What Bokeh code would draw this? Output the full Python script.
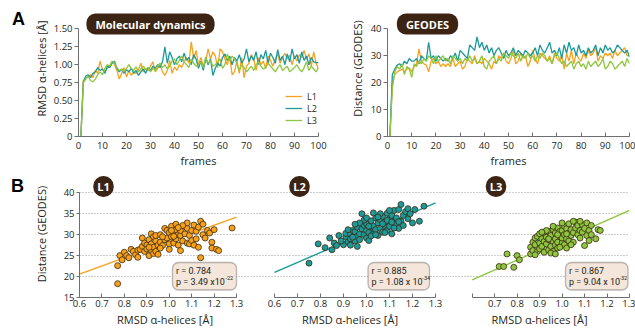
import numpy as np
from bokeh.plotting import figure
from bokeh.models import (Range1d, FixedTicker, Label, BoxAnnotation, Legend,
                          LegendItem, NumeralTickFormatter)
from bokeh.layouts import row, column
from bokeh.embed import file_html
from bokeh.resources import INLINE

# ---------------- data ----------------
frames = list(range(1, 101))
series_names = ["L1", "L2", "L3"]

rmsd_L1 = [
    0.00, 0.78, 0.80, 0.84, 0.86, 0.82, 0.92, 0.88, 1.05, 0.93,
    0.90, 0.95, 0.98, 1.04, 1.00, 0.92, 0.80, 0.88, 0.96, 0.83,
    0.92, 0.85, 0.90, 0.88, 0.93, 1.02, 0.90, 0.95, 0.92, 0.98,
    1.04, 0.90, 0.95, 1.00, 0.90, 0.85, 0.92, 1.06, 0.88, 0.97,
    0.92, 1.00, 0.96, 1.04, 1.10, 1.02, 1.32, 1.08, 1.20, 1.00,
    1.10, 0.98, 1.05, 1.22, 1.08, 1.18, 1.12, 0.96, 1.22, 1.18,
    1.08, 1.00, 1.12, 0.86, 0.90, 1.05, 0.88, 1.10, 0.82, 0.98,
    1.02, 1.14, 1.08, 0.92, 1.10, 1.00, 1.05, 0.95, 1.12, 1.06,
    0.98, 1.08, 1.15, 1.02, 1.10, 1.16, 1.08, 1.13, 1.00, 1.12,
    1.05, 1.14, 1.10, 1.20, 1.08, 1.15, 0.98, 1.18, 1.02, 0.94]
rmsd_L2 = [
    0.00, 0.76, 0.84, 0.86, 0.82, 0.88, 0.90, 0.96, 0.92, 0.94,
    0.88, 0.98, 0.96, 1.02, 1.05, 0.95, 0.90, 0.94, 0.88, 0.93,
    0.90, 0.95, 0.88, 0.92, 0.85, 0.90, 0.94, 0.88, 0.96, 0.92,
    0.98, 0.95, 1.00, 0.96, 1.04, 1.25, 1.02, 1.18, 1.10, 1.00,
    1.08, 1.12, 1.04, 1.16, 1.06, 1.10, 1.00, 1.14, 1.08, 0.95,
    1.05, 0.92, 1.10, 1.00, 1.08, 0.85, 0.95, 1.02, 0.98, 1.10,
    1.15, 1.06, 1.12, 1.00, 1.10, 1.05, 1.14, 1.02, 1.08, 1.22,
    1.04, 1.12, 1.06, 1.18, 1.00, 1.14, 1.08, 1.20, 1.02, 1.16,
    1.10, 1.02, 1.21, 1.06, 1.12, 1.00, 1.15, 1.04, 1.22, 1.08,
    1.14, 1.02, 1.18, 1.06, 1.12, 1.00, 1.10, 1.04, 1.03, 1.03]
rmsd_L3 = [
    0.00, 0.75, 0.80, 0.84, 0.78, 0.76, 0.80, 0.86, 0.90, 0.86,
    0.95, 1.00, 0.98, 1.05, 1.02, 0.96, 0.92, 0.94, 0.90, 0.95,
    1.00, 0.95, 0.92, 0.97, 0.90, 0.94, 0.98, 0.93, 0.96, 0.90,
    0.95, 0.92, 0.98, 1.02, 0.96, 1.00, 0.94, 0.98, 1.05, 1.08,
    1.00, 1.06, 1.12, 1.04, 1.00, 0.96, 1.08, 1.02, 0.98, 1.00,
    1.04, 0.96, 1.10, 1.02, 1.06, 0.98, 1.00, 1.04, 1.08, 0.95,
    1.00, 1.15, 1.05, 1.12, 1.08, 1.02, 0.92, 1.00, 0.96, 0.90,
    0.94, 0.98, 0.92, 1.00, 1.04, 0.98, 0.94, 0.96, 1.02, 0.98,
    0.94, 0.90, 0.96, 1.00, 0.92, 0.95, 0.98, 0.90, 0.93, 0.96,
    1.00, 0.94, 0.90, 0.96, 1.04, 0.92, 0.98, 0.94, 0.90, 0.96]

geo_L1 = [
    0, 20, 23, 24, 24.5, 25, 24, 25, 25.5, 24,
    26, 27, 32.5, 28, 27, 26.5, 24, 28, 29, 27,
    28, 26, 27, 26, 27, 26, 29, 26, 27, 28,
    25, 26, 29, 28, 27, 30, 27, 28, 27, 29,
    28, 27, 25, 28, 27, 30, 29, 31, 28, 27,
    29, 32, 27, 28, 31, 29, 30, 26, 28, 32,
    29, 27, 31, 30, 29, 28, 30, 27, 31, 29,
    28, 30, 25, 31, 28, 32, 27, 31, 29, 28,
    31, 29, 32, 30, 31, 33, 28, 30, 29, 31,
    30, 31, 29, 32, 30, 31, 32, 33, 30, 30]
geo_L2 = [
    0, 23, 25, 26.5, 27, 26, 28, 27, 29, 28,
    28, 29, 27, 30, 29, 28, 35, 29, 30, 28,
    30, 29, 28, 29, 28, 30, 29, 31, 28, 32,
    31, 30, 29, 34, 33, 32, 37, 33, 35, 32,
    34, 31, 33, 30, 32, 33, 31, 29, 32, 30,
    31, 33, 30, 32, 31, 30, 32, 31, 30, 31,
    33, 30, 34, 32, 31, 33, 35, 31, 32, 30,
    33, 29, 34, 31, 35, 32, 33, 30, 34, 31,
    32, 30, 33, 31, 32, 34, 30, 33, 31, 34,
    32, 33, 31, 32, 34, 33, 32, 31, 32, 29.5]
geo_L3 = [
    0, 18, 24, 26, 25, 27, 23, 26, 25, 22,
    27, 26, 28, 27, 29, 28, 30, 29, 27, 30,
    28, 29, 30, 28, 29, 27, 30, 29, 28, 29,
    27, 29, 28, 30, 28, 29, 27, 28, 30, 26,
    25, 28, 29, 30, 27, 29, 28, 31, 30, 29,
    31, 30, 29, 31, 28, 30, 29, 31, 29, 30,
    28, 30, 29, 31, 30, 28, 29, 27, 30, 31,
    29, 27, 28, 26, 27, 28, 25, 27, 28, 26,
    27, 25, 28, 26, 27, 28, 26, 27, 29, 25,
    26, 28, 27, 25, 26, 27, 28, 26, 29, 27]

# scatter: (RMSD, GEODES distance) pairs
scatter_L1 = [
    (0.77, 18.3), (0.77, 22.6), (0.78, 25.0), (0.79, 24.0), (0.80, 25.8), (0.81, 25.0),
    (0.82, 24.5), (0.83, 26.5), (0.84, 26.0), (0.85, 25.2), (0.86, 26.3), (0.86, 24.6),
    (0.87, 26.5), (0.88, 29.2), (0.88, 27.2), (0.89, 26.0), (0.89, 28.0), (0.90, 27.5),
    (0.90, 26.6), (0.91, 28.8), (0.91, 25.0), (0.92, 30.2), (0.92, 27.8), (0.92, 26.2),
    (0.93, 29.5), (0.93, 27.0), (0.93, 25.5), (0.94, 28.5), (0.94, 29.8), (0.94, 26.0),
    (0.95, 27.5), (0.95, 25.3), (0.96, 28.2), (0.96, 30.0), (0.97, 27.4), (0.98, 28.8),
    (0.98, 31.5), (0.99, 31.0), (0.99, 29.2), (1.00, 27.8), (1.00, 30.5), (1.00, 26.5),
    (1.01, 29.5), (1.01, 32.0), (1.02, 28.0), (1.02, 30.8), (1.03, 31.2), (1.03, 29.0),
    (1.03, 32.5), (1.04, 30.0), (1.04, 27.5), (1.05, 29.8), (1.05, 26.2), (1.05, 31.0),
    (1.06, 28.5), (1.07, 32.0), (1.07, 30.2), (1.08, 31.5), (1.08, 28.0), (1.08, 32.8),
    (1.09, 29.8), (1.09, 27.8), (1.10, 31.0), (1.10, 28.6), (1.11, 32.3), (1.11, 27.5),
    (1.12, 30.8), (1.12, 29.0), (1.13, 31.8), (1.13, 27.0), (1.14, 33.2), (1.14, 24.5),
    (1.15, 32.5), (1.15, 30.0), (1.16, 29.2), (1.17, 31.0), (1.18, 30.4), (1.19, 28.2),
    (1.19, 26.8), (1.20, 31.2), (1.21, 26.5), (1.22, 26.2), (1.28, 31.6), (0.97, 29.5),
    (1.06, 32.2), (1.01, 31.0), (0.96, 26.8), (0.91, 27.0), (1.02, 29.6), (1.04, 31.7)]
scatter_L2 = [
    (0.75, 23.2), (0.79, 27.8), (0.82, 26.9), (0.85, 26.4), (0.86, 28.0), (0.84, 29.2),
    (0.87, 27.4), (0.88, 29.8), (0.90, 27.6), (0.91, 29.5), (0.91, 30.3), (0.92, 28.3),
    (0.93, 30.1), (0.93, 29.0), (0.94, 31.0), (0.95, 28.5), (0.95, 30.7), (0.96, 29.6),
    (0.96, 31.8), (0.97, 30.2), (0.98, 35.0), (0.97, 28.8), (0.98, 31.4), (0.99, 30.0),
    (0.99, 32.2), (1.00, 29.2), (1.00, 31.0), (1.00, 32.6), (1.01, 30.5), (1.01, 28.6),
    (1.02, 31.8), (1.02, 33.3), (1.03, 30.2), (1.03, 32.0), (1.04, 34.0), (1.04, 31.2),
    (1.05, 29.8), (1.05, 32.8), (1.06, 33.6), (1.06, 31.5), (1.07, 30.6), (1.07, 34.4),
    (1.08, 32.2), (1.08, 33.0), (1.09, 31.0), (1.09, 35.1), (1.10, 33.8), (1.10, 32.0),
    (1.11, 34.6), (1.11, 30.2), (1.12, 33.3), (1.12, 35.8), (1.13, 32.5), (1.13, 34.0),
    (1.14, 31.5), (1.14, 36.0), (1.15, 33.2), (1.15, 37.2), (1.16, 34.6), (1.16, 32.2),
    (1.17, 35.5), (1.18, 33.8), (1.18, 36.2), (1.19, 35.0), (1.20, 32.8), (1.21, 36.0),
    (1.23, 33.2), (1.25, 36.8), (0.89, 28.5), (0.92, 31.2), (0.94, 29.4), (0.96, 27.2),
    (0.99, 33.5), (1.02, 29.7), (1.04, 30.0), (1.06, 35.0), (1.08, 30.5), (1.10, 35.8),
    (1.12, 31.6), (1.14, 33.1), (1.01, 32.0), (0.97, 32.8), (0.93, 27.5), (1.05, 34.2),
    (1.09, 33.4), (1.03, 35.2), (1.00, 34.0), (1.07, 32.6), (1.11, 33.0), (0.95, 32.5)]
scatter_L3 = [
    (0.72, 22.4), (0.74, 22.4), (0.755, 25.4), (0.785, 22.2), (0.80, 25.0), (0.81, 24.0),
    (0.86, 25.4), (0.86, 27.0), (0.87, 26.2), (0.87, 28.2), (0.88, 29.2), (0.88, 27.6),
    (0.89, 26.0), (0.89, 29.6), (0.90, 28.0), (0.90, 30.2), (0.90, 26.6), (0.91, 27.2),
    (0.91, 29.0), (0.92, 28.4), (0.92, 25.8), (0.92, 30.5), (0.93, 27.8), (0.93, 29.4),
    (0.94, 26.4), (0.94, 28.8), (0.94, 30.8), (0.95, 27.2), (0.95, 29.8), (0.96, 28.4),
    (0.96, 26.0), (0.96, 31.2), (0.97, 29.0), (0.97, 27.5), (0.97, 30.4), (0.98, 28.2),
    (0.98, 31.6), (0.98, 26.8), (0.99, 29.6), (0.99, 30.8), (1.00, 28.0), (1.00, 31.0),
    (1.00, 29.2), (1.01, 32.0), (1.01, 30.0), (1.01, 27.6), (1.02, 29.0), (1.02, 31.4),
    (1.03, 30.4), (1.03, 28.5), (1.03, 32.6), (1.04, 29.8), (1.04, 31.2), (1.05, 30.5),
    (1.05, 28.2), (1.06, 31.6), (1.06, 33.0), (1.07, 30.0), (1.07, 32.2), (1.08, 31.0),
    (1.08, 29.2), (1.09, 32.4), (1.09, 30.6), (1.10, 31.5), (1.10, 27.4), (1.11, 32.8),
    (1.11, 29.8), (1.12, 31.0), (1.13, 32.2), (1.13, 30.0), (1.15, 29.0), (1.16, 31.2),
    (1.17, 31.0), (0.93, 31.0), (0.95, 25.6), (0.99, 27.0), (1.02, 26.8), (1.04, 27.6),
    (0.96, 32.0), (1.00, 32.8), (1.05, 33.2), (0.91, 30.6), (0.88, 25.2), (0.98, 30.0),
    (1.02, 30.2), (0.94, 29.0), (1.08, 33.2), (1.12, 28.6), (0.97, 25.4)]

# linear fits: (slope, intercept)
fit_L1 = (19.43, 8.94)
fit_L2 = (23.71, 6.77)
fit_L3 = (23.71, 4.97)
r_values = ["0.784", "0.885", "0.867"]
p_mantissa = ["3.49 x10", "1.08 x 10", "9.04 x 10"]
p_exponent = ["-22", "-34", "-32"]

x_ticks_time = [0, 10, 20, 30, 40, 50, 60, 70, 80, 90, 100]
y_ticks_rmsd = [0, 0.25, 0.5, 0.75, 1.0, 1.25, 1.5]
y_ticks_geo = [0, 10, 20, 30, 40]
y_ticks_sc = [15, 20, 25, 30, 35, 40]
x_ticks_sc = [0.6, 0.7, 0.8, 0.9, 1.0, 1.1, 1.2, 1.3]

for arr in (rmsd_L1, rmsd_L2, rmsd_L3, geo_L1, geo_L2, geo_L3):
    assert len(arr) == len(frames)

# ---------------- style ----------------
FONT = "Open Sans"
BOXFONT = "Roboto"
TXT = "#231F20"
AX = "#6D6E71"
COLORS = ["#F8A21C", "#1B999B", "#8DC63F"]
BADGE = "#3C2415"
BOXFILL = "#F4E6DA"
GRID = "#9A9A9A"


def make_fig(w, h, xr, yr, ml, mr, mt, mb, xaxis=True, yaxis=True):
    p = figure(width=w, height=h, x_range=Range1d(*xr), y_range=Range1d(*yr),
               output_backend="svg", toolbar_location=None, title=None,
               min_border_left=ml, min_border_right=mr,
               min_border_top=mt, min_border_bottom=mb,
               x_axis_location="below" if xaxis else None,
               y_axis_location="left" if yaxis else None)
    p.outline_line_color = None
    p.background_fill_color = "white"
    p.border_fill_color = "white"
    p.grid.visible = False
    for ax in p.axis:
        ax.axis_line_color = AX
        ax.major_tick_line_color = AX
        ax.minor_tick_line_color = None
        ax.major_label_text_font = FONT
        ax.major_label_text_font_size = "9.5px"
        ax.major_label_text_color = TXT
        ax.axis_label_text_font = FONT
        ax.axis_label_text_font_size = "11px"
        ax.axis_label_text_font_style = "normal"
        ax.axis_label_text_color = TXT
    return p


def put(p, fr, px, py, text, **kw):
    opts = dict(text_font=FONT, text_align="center", text_baseline="middle",
                text_color=TXT, text_font_size="11px")
    opts.update(kw)
    p.add_layout(Label(x=px - fr[0], y=fr[1] - py, x_units="screen",
                       y_units="screen", text=text, **opts))


def badge(p, fr, px, py, text, pad_h, pad_v, radius):
    put(p, fr, px, py, text, text_color="white", text_font_style="bold",
        text_font_size="11px", background_fill_color=BADGE,
        padding=dict(left=pad_h, right=pad_h, top=pad_v, bottom=pad_v),
        border_radius=radius)


def rbox(p, fr, l, r, t, b):
    p.add_layout(BoxAnnotation(left=l - fr[0], right=r - fr[0], top=fr[1] - t,
                               bottom=fr[1] - b, left_units="screen",
                               right_units="screen", top_units="screen",
                               bottom_units="screen", fill_color=BOXFILL,
                               fill_alpha=1, line_color=TXT, line_width=1.3,
                               border_radius=6))


# ---------------- panel letters ----------------
letters = make_fig(30, 329, (0, 1), (0, 1), 0, 0, 0, 0, xaxis=False, yaxis=False)
fl = (0, 329)
put(letters, fl, 18, 18, "A", text_font="Liberation Sans", text_font_style="bold",
    text_font_size="18px", text_color="black")
put(letters, fl, 17, 185, "B", text_font="Liberation Sans", text_font_style="bold",
    text_font_size="18px", text_color="black")

# ---------------- row A ----------------
rmsd = [rmsd_L1, rmsd_L2, rmsd_L3]
geo = [geo_L1, geo_L2, geo_L3]

a1 = make_fig(302, 170, (0, 100), (0, 1.8942), 48, 14, 0, 34)
fa1 = (78, 136)
a2 = make_fig(303, 170, (0, 100), (0, 50.51), 55, 6, 0, 34)
fa2 = (387, 136)

for p in (a1, a2):
    p.xaxis.ticker = FixedTicker(ticks=x_ticks_time)
    p.xaxis.major_tick_in = 4
    p.xaxis.major_tick_out = 0
    p.xaxis.major_label_standoff = 5
    p.xaxis.axis_label = "frames"
    p.xaxis.axis_label_standoff = 1
    p.yaxis.major_tick_in = 0
    p.yaxis.major_tick_out = 4
    p.yaxis.major_label_standoff = 2
a1.yaxis.ticker = FixedTicker(ticks=y_ticks_rmsd)
a1.yaxis.bounds = (y_ticks_rmsd[0], y_ticks_rmsd[-1])
a1.yaxis.formatter = NumeralTickFormatter(format="0.00")
a1.yaxis.major_label_overrides = {0: "0"}
a1.yaxis.axis_label = "RMSD \u03b1-helices [\u00c5]"
a1.yaxis.axis_label_standoff = 2
a2.yaxis.ticker = FixedTicker(ticks=y_ticks_geo)
a2.yaxis.bounds = (y_ticks_geo[0], y_ticks_geo[-1])
a2.yaxis.axis_label = "Distance (GEODES)"
a2.yaxis.axis_label_standoff = 3

lines = []
for name, ys, col in zip(series_names, rmsd, COLORS):
    lines.append(a1.line(frames, ys, color=col, line_width=1.3))
for name, ys, col in zip(series_names, geo, COLORS):
    a2.line(frames, ys, color=col, line_width=1.3)

leg_y = [33.5, 21.5, 9.5]
for n, r, ly in zip(series_names, lines, leg_y):
    a1.add_layout(Legend(items=[LegendItem(label=n, renderers=[r])],
                         location=(207, ly), orientation="vertical",
                         border_line_color=None, background_fill_alpha=0,
                         padding=0, margin=0, spacing=0, label_height=12,
                         glyph_height=12, glyph_width=17, label_standoff=5,
                         label_text_font=FONT, label_text_font_size="9px",
                         label_text_color=TXT))

badge(a1, fa1, 150, 23.5, "Molecular dynamics", 9, 3, 9)
badge(a2, fa2, 427, 23.5, "GEODES", 9, 3, 9)

# ---------------- row B ----------------
b1 = make_fig(220, 159, (0.6, 1.3621), (15, 45.32), 47, 0, 0, 32)
fb1 = (77, 297)
b2 = make_fig(199, 159, (0.4957, 1.3609), (15, 45.32), 0, 0, 0, 32, yaxis=False)
fb2 = (250, 297)
b3 = make_fig(186, 159, (0.499, 1.3), (15, 45.32), 0, 6, 0, 32, yaxis=False)
fb3 = (449, 297)

b1.yaxis.ticker = FixedTicker(ticks=y_ticks_sc)
b1.yaxis.bounds = (y_ticks_sc[0], y_ticks_sc[-1])
b1.yaxis.major_tick_out = 3
b1.yaxis.major_tick_in = 0
b1.yaxis.major_label_standoff = 2
b1.yaxis.axis_label = "Distance (GEODES)"
b1.yaxis.axis_label_standoff = 12

scat = [scatter_L1, scatter_L2, scatter_L3]
fits = [fit_L1, fit_L2, fit_L3]
figs_b = [b1, b2, b3]
frames_b = [fb1, fb2, fb3]
badge_x = [101, 299, 495.5]
boxes = [(170, 234), (367.5, 429), (565, 627.5)]
exp_x = [223.0, 422.0, 619.0]

for i, (p, fr) in enumerate(zip(figs_b, frames_b)):
    p.xaxis.ticker = FixedTicker(ticks=x_ticks_sc)
    p.xaxis.formatter = NumeralTickFormatter(format="0.0")
    p.xaxis.bounds = (x_ticks_sc[0], x_ticks_sc[-1])
    p.xaxis.major_tick_in = 4
    p.xaxis.major_tick_out = 0
    p.xaxis.major_label_standoff = 2
    p.xaxis.axis_label = "RMSD \u03b1-helices [\u00c5]"
    p.xaxis.axis_label_standoff = 2
    p.ygrid.visible = True
    p.ygrid.ticker = FixedTicker(ticks=y_ticks_sc)
    p.ygrid.grid_line_color = GRID
    p.ygrid.grid_line_dash = "1 2"
    p.ygrid.grid_line_width = 1
    slope, icpt = fits[i]
    fx = [x_ticks_sc[0], x_ticks_sc[-1]]
    p.line(fx, [icpt + slope * v for v in fx], color=COLORS[i], line_width=1.4)
    xs = [a for a, b in scat[i]]
    ys = [b for a, b in scat[i]]
    p.scatter(xs, ys, size=6, fill_color=COLORS[i], line_color="#3A2A12",
              line_width=0.8)
    badge(p, fr, badge_x[i], 186, series_names[i], 4, 3, 10)
    l, r = boxes[i]
    rbox(p, fr, l, r, 262, 289.5)
    put(p, fr, l + 3.5, 270, "r = " + r_values[i], text_align="left",
        text_font=BOXFONT, text_font_size="9px")
    put(p, fr, l + 3.5, 281, "p = " + p_mantissa[i], text_align="left",
        text_font=BOXFONT, text_font_size="9px")
    put(p, fr, exp_x[i], 277.5, p_exponent[i], text_align="left",
        text_font=BOXFONT, text_font_size="5.5px")

b3.xaxis.major_label_overrides = {0.6: ""}

layout = row(letters, column(row(a1, a2), row(b1, b2, b3)))
open("out.html", "w").write(file_html(layout, INLINE))
